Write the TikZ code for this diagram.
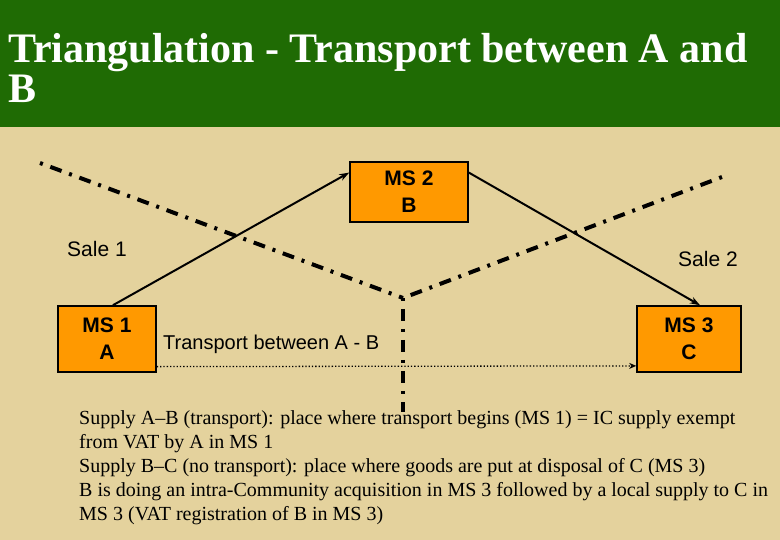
\documentclass[tikz,border=0pt]{standalone}
\usepackage{fontspec}
\setmainfont{Liberation Serif}
\newfontfamily\arialfont{Liberation Sans}
\usepackage{tikz}
\usetikzlibrary{arrows.meta}
\definecolor{barGreen}{RGB}{31,107,4}
\definecolor{sandBG}{RGB}{228,210,157}
\definecolor{msOrange}{RGB}{255,153,0}
\tikzset{
	msbox/.style={draw=black, line width=1.6pt, fill=msOrange, inner sep=0pt, align=center,
		font=\arialfont\bfseries\fontsize{21}{27}\selectfont},
	border/.style={line width=4pt, dash pattern=on 3pt off 8pt on 12pt off 8pt},
	sale/.style={line width=2pt, -{Stealth[length=10pt,width=7pt]}},
	lbl/.style={anchor=base west, inner sep=0pt, font=\arialfont\fontsize{21}{25}\selectfont}
}

\begin{document}
\begin{tikzpicture}[x=1pt,y=-1pt]
	\useasboundingbox (0,0) rectangle (780,540);
	%background and title bar
	\fill[sandBG] (0,0) rectangle (780,540);
	\fill[barGreen] (0,0) rectangle (780,127);
	\node[anchor=base west, inner sep=0pt, align=left, text=white,
		font=\bfseries\fontsize{42}{40}\selectfont] (title) at (8,103)
		{Triangulation - Transport between A and\\B};
	
	%member states
	\node[msbox, minimum width=98pt, minimum height=66pt] (ms1) at (107,339) {MS 1\\A};
	\node[msbox, minimum width=118pt, minimum height=60pt] (ms2) at (409,192) {MS 2\\B};
	\node[msbox, minimum width=104pt, minimum height=66pt] (ms3) at (689,339) {MS 3\\C};
	
	%borders
	\coordinate (jn) at (403,298);
	\coordinate (bl) at (40,163);
	\coordinate (br) at (722,177);
	\coordinate (bd) at (403,412);
	\draw[border] (bl)--(jn);
	\draw[border] (br)--(jn);
	\draw[border] (jn)--(bd);
	
	%sales
	\draw[sale] (ms1.80)--(ms2.162);
	\draw[sale] (ms2.18)--(ms3.72);
	\node[lbl] (s1) at (67,257) {Sale 1};
	\node[lbl] (s2) at (678,267) {Sale 2};
	
	%transport
	\draw[line width=1.3pt, dotted, -{Stealth[length=7pt,width=6pt]}] (ms1.-29)--(ms3.207);
	\node[lbl, font=\arialfont\fontsize{20}{24}\selectfont] (tr) at (163,350) {Transport between A - B};
	
	%explanation
	\node[anchor=base west, inner sep=0pt, align=left, font=\fontsize{20}{24}\selectfont] (txt) at (79,520)
		{Supply A--B (transport): place where transport begins (MS 1) = IC supply exempt\\
		from VAT by A in MS 1\\
		Supply B--C (no transport): place where goods are put at disposal of C (MS 3)\\
		B is doing an intra-Community acquisition in MS 3 followed by a local supply to C in\\
		MS 3 (VAT registration of B in MS 3)};
\end{tikzpicture}
\end{document}
